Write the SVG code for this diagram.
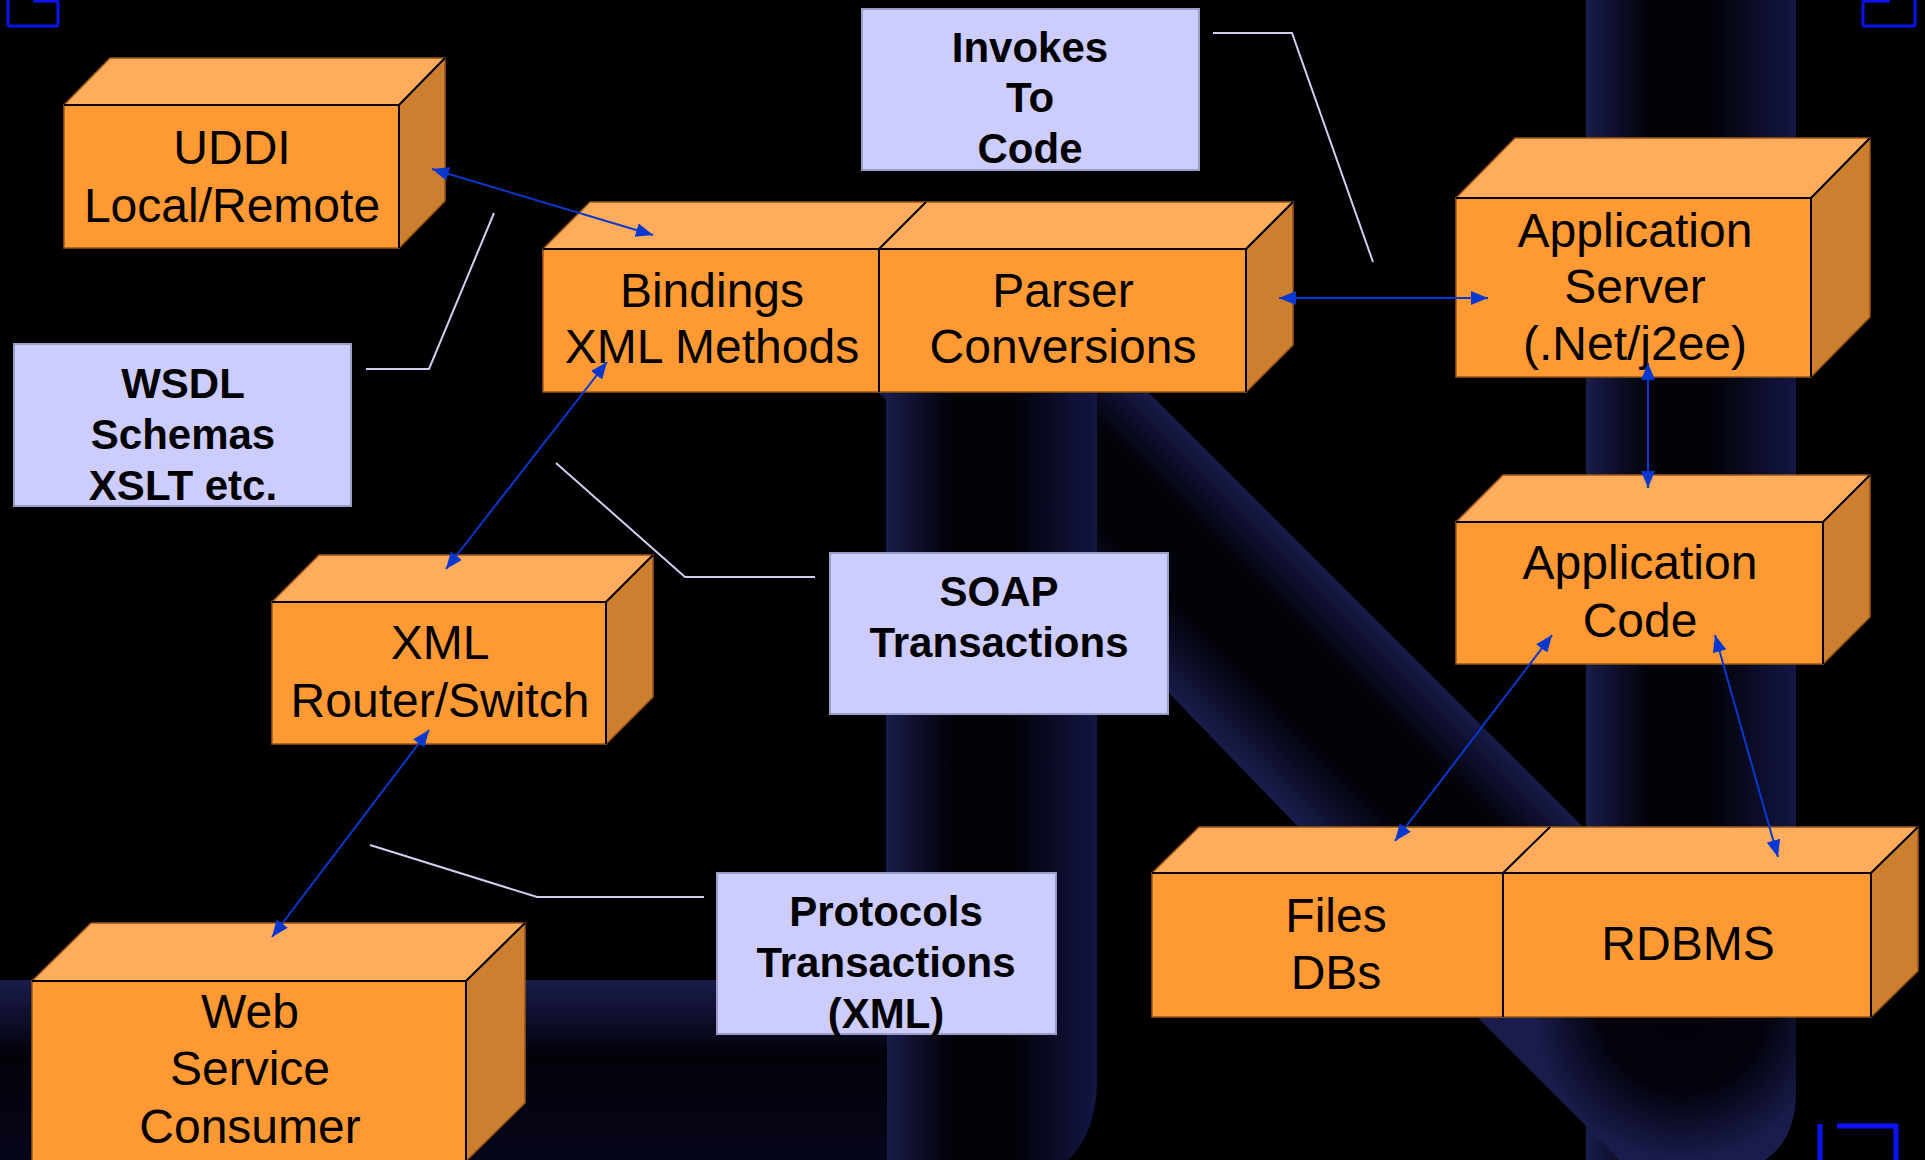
<svg xmlns="http://www.w3.org/2000/svg" width="1925" height="1160" viewBox="0 0 1925 1160">
  <defs>
    <style>
      .front { fill: #FF9933; stroke: #9A5518; stroke-width: 1.5; }
      .top { fill: #FFAD5C; stroke: #9A5518; stroke-width: 1.5; stroke-linejoin: round; }
      .side { fill: #CC7F2E; stroke: #9A5518; stroke-width: 1.5; stroke-linejoin: round; }
      .seam { fill: none; stroke: #000; stroke-width: 2; stroke-linejoin: round; }
      .note { fill: #CCCCFF; stroke: #9C9CC6; stroke-width: 2; }
      .lbl { font-family: "Liberation Sans", Arial, sans-serif; font-size: 48px; fill: #000; text-anchor: middle; }
      .nlbl { font-family: "Liberation Sans", Arial, sans-serif; font-size: 42px; font-weight: bold; fill: #000; text-anchor: middle; }
      .link { fill: none; stroke: #0838D0; stroke-width: 2; marker-start: url(#head); marker-end: url(#head); }
      .lead { fill: none; stroke: #CFCFF2; stroke-width: 2; }
      .corner { fill: none; stroke: #0A14F0; stroke-width: 3; }
    </style>
    <marker id="head" markerUnits="userSpaceOnUse" markerWidth="18" markerHeight="14" refX="17" refY="7" orient="auto-start-reverse">
      <path d="M0,0 L17,7 L0,14 Z" fill="#0838D0"/>
    </marker>
    <linearGradient id="tubeV" x1="0" y1="0" x2="1" y2="0">
      <stop offset="0" stop-color="#1A1C4C"/>
      <stop offset="0.3" stop-color="#020209"/>
      <stop offset="0.6" stop-color="#020209"/>
      <stop offset="1" stop-color="#141645"/>
    </linearGradient>
    <linearGradient id="tubeH" x1="0" y1="0" x2="0" y2="1">
      <stop offset="0" stop-color="#1A1C4C"/>
      <stop offset="0.4" stop-color="#020209"/>
      <stop offset="1" stop-color="#06061C"/>
    </linearGradient>
    <linearGradient id="tubeD" gradientUnits="userSpaceOnUse" x1="1171" y1="697" x2="1312" y2="556">
      <stop offset="0" stop-color="#1A1C4C"/>
      <stop offset="0.35" stop-color="#020209"/>
      <stop offset="0.7" stop-color="#020209"/>
      <stop offset="1" stop-color="#181A4A"/>
    </linearGradient>
    <radialGradient id="bend" gradientUnits="userSpaceOnUse" cx="1683" cy="1010" r="150">
      <stop offset="0" stop-color="#020209"/>
      <stop offset="0.55" stop-color="#03030F"/>
      <stop offset="1" stop-color="#1A1C4C"/>
    </radialGradient>
  </defs>

  <!-- backdrop -->
  <rect x="0" y="0" width="1925" height="1160" fill="#000"/>

  <!-- background pipes -->
  <g id="pipes">
    <path d="M1586,0 H1796 V1090 Q1796 1140 1765 1160 H1586 Z" fill="url(#tubeV)"/>
    <path d="M878,392 H1148 L1796,1040 V1090 Q1796 1140 1765 1160 H1620 Z" fill="url(#tubeD)"/>
    <path d="M1478,1018 H1796 V1090 Q1796 1140 1765 1160 H1620 Z" fill="url(#bend)"/>
    <path d="M886,392 H1097 V1085 Q1095 1140 1062 1165 H886 Z" fill="url(#tubeV)"/>
    <rect x="0" y="980" width="887" height="190" fill="url(#tubeH)"/>
  </g>

  <!-- slide corner marks -->
  <g id="marks">
    <path class="corner" d="M33,1 H56 Q58,1 58,3 V24 Q58,26 56,26 H10 Q8,26 8,24 V-5"/>
    <path class="corner" d="M1890,1 H1865 Q1863,1 1863,3 V24 Q1863,26 1865,26 H1913 Q1915,26 1915,24 V-5"/>
    <path class="corner" style="stroke-width:5" d="M1820,1160 V1124 M1837,1126 H1896 V1165"/>
  </g>

  <!-- callout boxes -->
  <g id="invokes">
    <rect class="note" x="862" y="9" width="337" height="161"/>
    <text class="nlbl" x="1030" y="62">Invokes</text>
    <text class="nlbl" x="1030" y="112">To</text>
    <text class="nlbl" x="1030" y="163">Code</text>
  </g>
  <g id="wsdl">
    <rect class="note" x="14" y="344" width="337" height="162"/>
    <text class="nlbl" x="183" y="398">WSDL</text>
    <text class="nlbl" x="183" y="449">Schemas</text>
    <text class="nlbl" x="183" y="500">XSLT etc.</text>
  </g>
  <g id="soap">
    <rect class="note" x="830" y="553" width="338" height="161"/>
    <text class="nlbl" x="999" y="606">SOAP</text>
    <text class="nlbl" x="999" y="657">Transactions</text>
  </g>
  <g id="protocols">
    <rect class="note" x="717" y="873" width="339" height="161"/>
    <text class="nlbl" x="886" y="926">Protocols</text>
    <text class="nlbl" x="886" y="977">Transactions</text>
    <text class="nlbl" x="886" y="1028">(XML)</text>
  </g>

  <!-- 3D blocks -->
  <g id="uddi">
    <polygon class="top" points="64,105 110,58 445,58 399,105"/>
    <polygon class="side" points="399,105 445,58 445,201 399,248"/>
    <rect class="front" x="64" y="105" width="335" height="143"/>
    <polyline class="seam" points="64,105 399,105 399,248"/>
    <polyline class="seam" points="399,105 445,58"/>
    <text class="lbl" x="232" y="164">UDDI</text>
    <text class="lbl" x="232" y="222">Local/Remote</text>
  </g>

  <g id="bindings-parser">
    <polygon class="top" points="543,249 590,202 1293,202 1246,249"/>
    <polygon class="side" points="1246,249 1293,202 1293,345 1246,392"/>
    <rect class="front" x="543" y="249" width="703" height="143"/>
    <polyline class="seam" points="543,249 1246,249 1246,392"/>
    <polyline class="seam" points="1246,249 1293,202"/>
    <polyline class="seam" points="879,392 879,249 926,202"/>
    <text class="lbl" x="712" y="307">Bindings</text>
    <text class="lbl" x="712" y="363">XML Methods</text>
    <text class="lbl" x="1063" y="307">Parser</text>
    <text class="lbl" x="1063" y="363">Conversions</text>
  </g>

  <g id="app-server">
    <polygon class="top" points="1456,198 1515,138 1870,138 1811,198"/>
    <polygon class="side" points="1811,198 1870,138 1870,317 1811,377"/>
    <rect class="front" x="1456" y="198" width="355" height="179"/>
    <polyline class="seam" points="1456,198 1811,198 1811,377"/>
    <polyline class="seam" points="1811,198 1870,138"/>
    <text class="lbl" x="1635" y="247">Application</text>
    <text class="lbl" x="1635" y="303">Server</text>
    <text class="lbl" x="1635" y="360">(.Net/j2ee)</text>
  </g>

  <g id="app-code">
    <polygon class="top" points="1456,522 1503,475 1870,475 1823,522"/>
    <polygon class="side" points="1823,522 1870,475 1870,617 1823,664"/>
    <rect class="front" x="1456" y="522" width="367" height="142"/>
    <polyline class="seam" points="1456,522 1823,522 1823,664"/>
    <polyline class="seam" points="1823,522 1870,475"/>
    <text class="lbl" x="1640" y="579">Application</text>
    <text class="lbl" x="1640" y="637">Code</text>
  </g>

  <g id="files-rdbms">
    <polygon class="top" points="1152,873 1199,827 1918,827 1871,873"/>
    <polygon class="side" points="1871,873 1918,827 1918,971 1871,1017"/>
    <rect class="front" x="1152" y="873" width="719" height="144"/>
    <polyline class="seam" points="1152,873 1871,873 1871,1017"/>
    <polyline class="seam" points="1871,873 1918,827"/>
    <polyline class="seam" points="1503,1017 1503,873 1550,827"/>
    <text class="lbl" x="1336" y="932">Files</text>
    <text class="lbl" x="1336" y="989">DBs</text>
    <text class="lbl" x="1688" y="960">RDBMS</text>
  </g>

  <g id="xml-router">
    <polygon class="top" points="272,602 319,555 653,555 606,602"/>
    <polygon class="side" points="606,602 653,555 653,697 606,744"/>
    <rect class="front" x="272" y="602" width="334" height="142"/>
    <polyline class="seam" points="272,602 606,602 606,744"/>
    <polyline class="seam" points="606,602 653,555"/>
    <text class="lbl" x="440" y="659">XML</text>
    <text class="lbl" x="440" y="717">Router/Switch</text>
  </g>

  <g id="web-service-consumer">
    <polygon class="top" points="32,981 91,923 525,923 466,981"/>
    <polygon class="side" points="466,981 525,923 525,1103 466,1161"/>
    <rect class="front" x="32" y="981" width="434" height="182"/>
    <polyline class="seam" points="32,981 466,981 466,1163"/>
    <polyline class="seam" points="466,981 525,923"/>
    <text class="lbl" x="250" y="1028">Web</text>
    <text class="lbl" x="250" y="1085">Service</text>
    <text class="lbl" x="250" y="1143">Consumer</text>
  </g>

  <!-- connectors -->
  <g id="connectors">
    <polyline class="lead" points="1213,33 1292,33 1373,262"/>
    <polyline class="lead" points="366,369 429,369 494,213"/>
    <polyline class="lead" points="556,463 685,577 815,577"/>
    <polyline class="lead" points="370,845 537,897 704,897"/>

    <line class="link" x1="432" y1="169" x2="653" y2="235"/>
    <line class="link" x1="607" y1="362" x2="446" y2="569"/>
    <line class="link" x1="429" y1="730" x2="272" y2="937"/>
    <line class="link" x1="1279" y1="298" x2="1488" y2="298"/>
    <line class="link" x1="1648" y1="363" x2="1648" y2="488"/>
    <line class="link" x1="1552" y1="635" x2="1395" y2="841"/>
    <line class="link" x1="1715" y1="635" x2="1778" y2="857"/>
  </g>
</svg>
